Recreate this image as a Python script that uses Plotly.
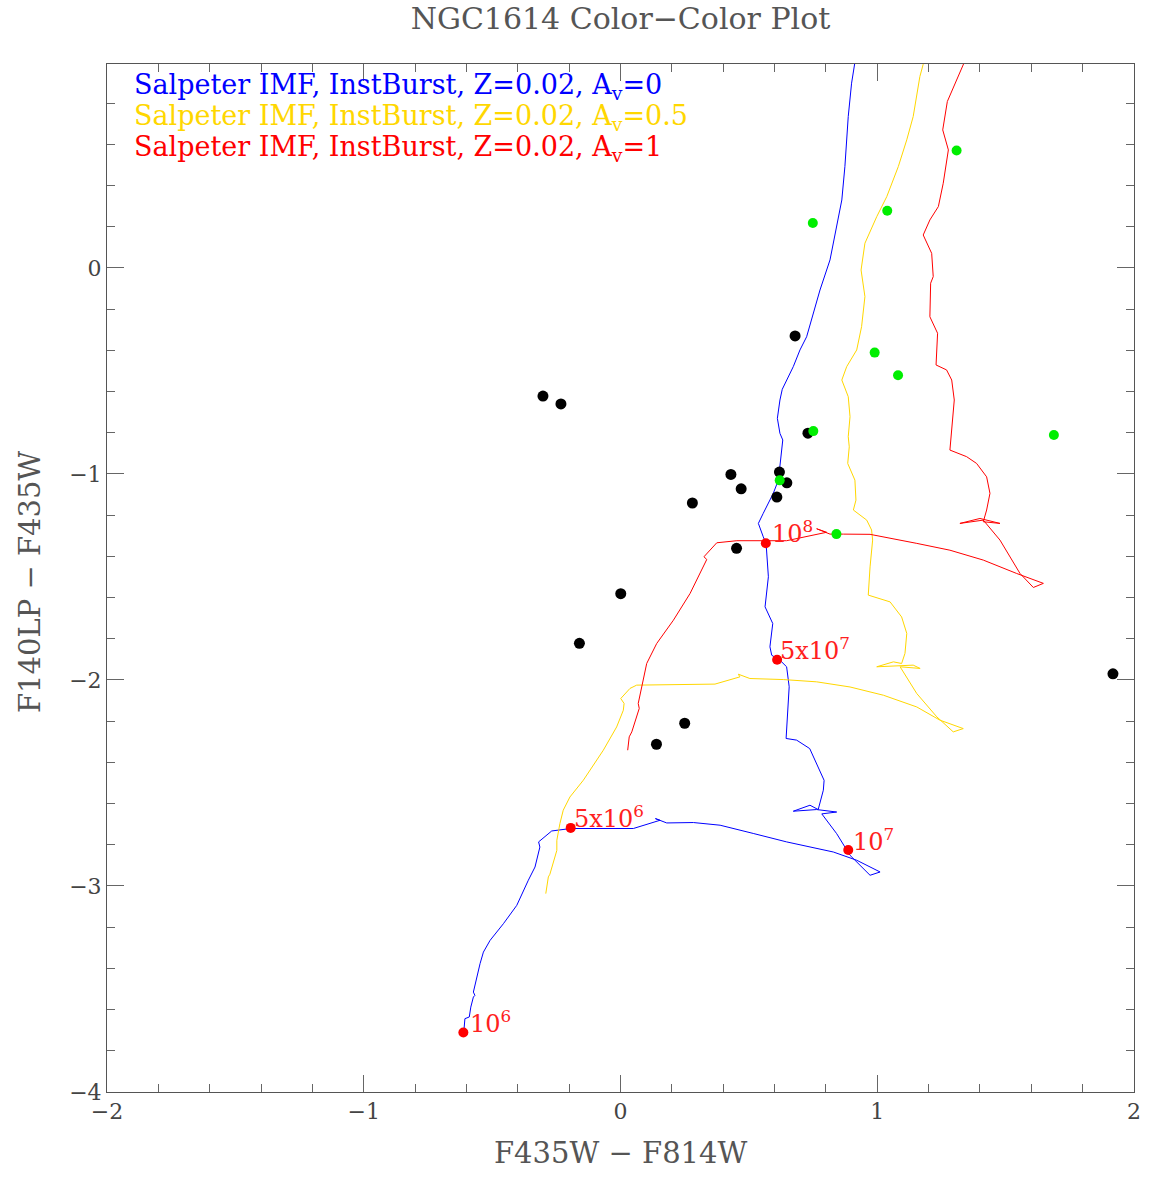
import plotly.graph_objects as go

# ---------------- data ----------------
# Instantaneous-burst track, Av = 0 (blue)
blue_x = [-0.612, -0.608, -0.606, -0.589, -0.583, -0.573, -0.567, -0.573, -0.560, -0.547,
          -0.534, -0.508, -0.456, -0.404, -0.359, -0.333, -0.314, -0.319, -0.268, -0.194,
          0.050, 0.154, 0.136, 0.180, 0.284, 0.388, 0.517, 0.647, 0.829, 0.920,
          1.011, 0.972, 0.894, 0.842, 0.784, 0.842, 0.764, 0.673, 0.738, 0.770,
          0.790, 0.793, 0.737, 0.686, 0.645, 0.650, 0.657, 0.647, 0.621, 0.589,
          0.582, 0.593, 0.569, 0.563, 0.576, 0.569, 0.567, 0.556, 0.537, 0.556,
          0.595, 0.615, 0.632, 0.621, 0.611, 0.621, 0.630, 0.673, 0.699, 0.725,
          0.751, 0.777, 0.816, 0.842, 0.862, 0.874, 0.887, 0.900, 0.913, 0.917]
blue_y = [-3.733, -3.685, -3.644, -3.636, -3.588, -3.539, -3.531, -3.515, -3.442, -3.377,
          -3.321, -3.264, -3.183, -3.094, -2.972, -2.908, -2.811, -2.786, -2.733, -2.721,
          -2.721, -2.681, -2.673, -2.694, -2.692, -2.705, -2.745, -2.786, -2.835, -2.875,
          -2.932, -2.948, -2.851, -2.746, -2.650, -2.641, -2.629, -2.637, -2.608, -2.629,
          -2.535, -2.487, -2.333, -2.292, -2.284, -2.179, -2.033, -1.936, -1.904, -1.880,
          -1.839, -1.726, -1.661, -1.645, -1.499, -1.386, -1.337, -1.305, -1.240, -1.191,
          -1.094, -1.030, -0.835, -0.803, -0.730, -0.641, -0.589, -0.479, -0.398, -0.334,
          -0.220, -0.107, 0.039, 0.201, 0.330, 0.492, 0.735, 0.897, 0.989, 1.030]

# Av = 0.5 (yellow)
yellow_x = [-0.291, -0.281, -0.275, -0.262, -0.248, -0.248, -0.236, -0.223, -0.197, -0.145,
            -0.067, -0.015, 0.011, 0.014, 0.001, 0.037, 0.063, 0.368, 0.465, 0.459,
            0.504, 0.634, 0.764, 0.894, 1.024, 1.154, 1.244, 1.335, 1.296, 1.232,
            1.154, 1.089, 1.167, 1.140, 0.998, 1.063, 1.095, 1.108, 1.115, 1.095,
            1.050, 0.965, 0.972, 0.982, 0.978, 0.959, 0.907, 0.917, 0.913, 0.885,
            0.891, 0.887, 0.894, 0.887, 0.862, 0.881, 0.920, 0.939, 0.952, 0.937,
            0.952, 0.998, 1.037, 1.082, 1.115, 1.140, 1.154, 1.166, 1.179, 1.186]
yellow_y = [-3.037, -2.956, -2.943, -2.891, -2.827, -2.778, -2.697, -2.632, -2.568, -2.487,
            -2.341, -2.228, -2.147, -2.114, -2.090, -2.041, -2.025, -2.020, -1.985, -1.972,
            -1.993, -1.998, -2.009, -2.034, -2.074, -2.131, -2.195, -2.236, -2.252, -2.179,
            -2.066, -1.936, -1.944, -1.928, -1.936, -1.912, -1.920, -1.871, -1.774, -1.694,
            -1.621, -1.588, -1.451, -1.321, -1.272, -1.224, -1.175, -1.127, -1.030, -0.949,
            -0.868, -0.819, -0.722, -0.625, -0.544, -0.479, -0.398, -0.285, -0.139, -0.010,
            0.120, 0.249, 0.346, 0.492, 0.622, 0.735, 0.848, 0.929, 0.989, 1.030]

# Av = 1 (red)
red_x = [0.028, 0.034, 0.044, 0.063, 0.073, 0.069, 0.083, 0.102, 0.141, 0.206,
         0.271, 0.322, 0.336, 0.325, 0.336, 0.375, 0.453, 0.647, 0.803, 0.764,
         0.816, 0.868, 0.972, 1.154, 1.283, 1.413, 1.543, 1.647, 1.608, 1.556,
         1.478, 1.413, 1.322, 1.400, 1.478, 1.413, 1.426, 1.439, 1.426, 1.387,
         1.348, 1.283, 1.290, 1.300, 1.290, 1.270, 1.229, 1.232, 1.235, 1.205,
         1.208, 1.218, 1.212, 1.179, 1.205, 1.238, 1.257, 1.277, 1.255, 1.273,
         1.335, 1.350]
red_y = [-2.341, -2.276, -2.252, -2.179, -2.138, -2.114, -2.034, -1.920, -1.823, -1.710,
         -1.580, -1.451, -1.415, -1.402, -1.386, -1.334, -1.324, -1.324, -1.283, -1.266,
         -1.292, -1.292, -1.293, -1.337, -1.370, -1.418, -1.483, -1.531, -1.551, -1.483,
         -1.321, -1.224, -1.240, -1.216, -1.240, -1.232, -1.175, -1.094, -1.014, -0.949,
         -0.916, -0.884, -0.771, -0.641, -0.544, -0.495, -0.471, -0.382, -0.317, -0.237,
         -0.074, -0.042, 0.071, 0.160, 0.233, 0.298, 0.411, 0.573, 0.670, 0.808,
         0.989, 1.030]

# Observed clusters (black)
black_x = [-0.302, -0.232, 0.680, 0.730, 0.430, 0.619, 0.470, 0.648, 0.609, 0.280,
           0.452, 0.001, -0.160, 0.250, 0.140, 1.918]
black_y = [-0.622, -0.660, -0.330, -0.802, -1.002, -0.991, -1.072, -1.043, -1.112, -1.141,
           -1.361, -1.581, -1.822, -2.210, -2.312, -1.970]

# Observed clusters (green)
green_x = [0.749, 1.039, 1.309, 0.990, 1.081, 0.751, 0.620, 0.841, 1.688]
green_y = [0.218, 0.278, 0.570, -0.411, -0.521, -0.792, -1.031, -1.292, -0.811]

# Age marks on the Av=0 track
age_x = [-0.612, -0.194, 0.887, 0.610, 0.566]
age_y = [-3.711, -2.718, -2.825, -1.902, -1.336]
age_labels = ["10<sup>6</sup>", "5x10<sup>6</sup>", "10<sup>7</sup>", "5x10<sup>7</sup>", "10<sup>8</sup>"]
age_shift_x = [5, 1, 3, 1, 4]
age_shift_y = [10, 11, 10, 11, 11]

legend_labels = ["Salpeter IMF, InstBurst, Z=0.02, A<sub>v</sub>=0",
                 "Salpeter IMF, InstBurst, Z=0.02, A<sub>v</sub>=0.5",
                 "Salpeter IMF, InstBurst, Z=0.02, A<sub>v</sub>=1"]
track_colors = ["#0000ff", "#ffd700", "#ff0000"]
legend_y = [0.978, 0.948, 0.918]

FONT = "DejaVu Serif"

fig = go.Figure()
for xs, ys, c in [(blue_x, blue_y, track_colors[0]),
                  (yellow_x, yellow_y, track_colors[1]),
                  (red_x, red_y, track_colors[2])]:
    fig.add_trace(go.Scatter(x=xs, y=ys, mode="lines",
                             line=dict(color=c, width=1), showlegend=False,
                             hoverinfo="skip"))

fig.add_trace(go.Scatter(x=black_x, y=black_y, mode="markers",
                         marker=dict(color="black", size=11), showlegend=False))
fig.add_trace(go.Scatter(x=green_x, y=green_y, mode="markers",
                         marker=dict(color="#00ee00", size=10), showlegend=False))
fig.add_trace(go.Scatter(x=age_x, y=age_y, mode="markers",
                         marker=dict(color="#ff0000", size=10), showlegend=False))

for x, y, t, sx, sy in zip(age_x, age_y, age_labels, age_shift_x, age_shift_y):
    fig.add_annotation(x=x, y=y, text=t, showarrow=False, xanchor="left", yanchor="middle",
                       xshift=sx, yshift=sy, font=dict(family=FONT, size=24, color="#ff2020"))

for t, c, y in zip(legend_labels, track_colors, legend_y):
    fig.add_annotation(xref="paper", yref="paper", x=0.024, y=y, text=t, showarrow=False,
                       xanchor="left", yanchor="middle",
                       font=dict(family=FONT, size=27, color=c))

# axis titles
fig.add_annotation(xref="paper", yref="paper", x=0.5, y=-0.0597, text="F435W − F814W",
                   showarrow=False, xanchor="center", yanchor="middle",
                   font=dict(family=FONT, size=29, color="#555555"))
fig.add_annotation(xref="paper", yref="paper", x=-0.075, y=0.496, text="F140LP − F435W",
                   showarrow=False, xanchor="center", yanchor="middle", textangle=-90,
                   font=dict(family=FONT, size=29, color="#555555"))

axis_common = dict(showgrid=False, zeroline=False, showline=True, linecolor="#555555",
                   linewidth=1, mirror="allticks", ticks="inside", ticklen=17,
                   tickcolor="#666666", tickwidth=1,
                   tickfont=dict(family=FONT, size=22, color="#444444"))

fig.update_xaxes(range=[-2, 2], dtick=1, tick0=0,
                 minor=dict(ticks="inside", ticklen=8, dtick=0.2, tick0=0,
                            tickcolor="#666666", tickwidth=1),
                 **axis_common)
fig.update_yaxes(range=[-4, 0.99], dtick=1, tick0=0,
                 minor=dict(ticks="inside", ticklen=8, dtick=0.2, tick0=0,
                            tickcolor="#666666", tickwidth=1),
                 **axis_common)

fig.update_layout(
    width=1168, height=1189,
    margin=dict(l=107, r=34, t=64, b=97),
    paper_bgcolor="white", plot_bgcolor="white",
    title=dict(text="NGC1614 Color−Color Plot", x=0.5, xref="paper", xanchor="center",
               y=1 - 18 / 1189, yref="container", yanchor="middle",
               font=dict(family=FONT, size=30, color="#555555")),
    showlegend=False,
)

fig.write_html("out.html")
